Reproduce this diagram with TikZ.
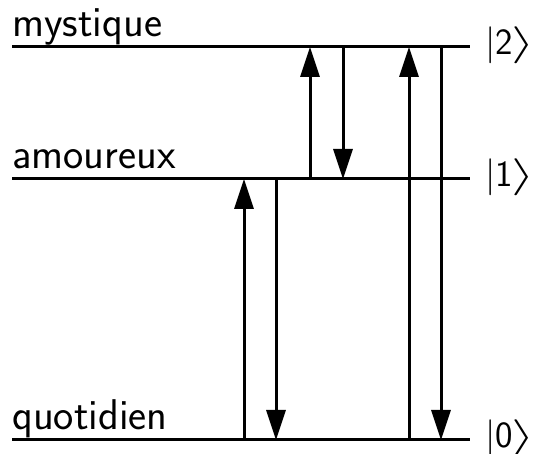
\RequirePackage{fix-cm}
\documentclass[tikz,border=0pt]{standalone}
\usepackage{fontspec}
\usetikzlibrary{arrows.meta,calc}
\newcommand{\wideket}{\scalebox{1.65}[1]{$\rangle$}}
\begin{document}
\begin{tikzpicture}[x=1pt,y=1pt,
  level/.style={line width=3pt},
  trans/.style={line width=3pt,-{Triangle[length=30pt,width=19pt]}},
  lvlname/.style={anchor=base west,inner sep=0pt,font=\fontsize{43}{50}\sffamily},
  ket/.style={anchor=base west,inner sep=0pt,font=\fontsize{37}{44}\sffamily}]
\useasboundingbox (0,0) rectangle (536,454);
% energy levels
\coordinate (L0w) at (12,14);  \coordinate (L0e) at (470,14);
\coordinate (L1w) at (12,275); \coordinate (L1e) at (470,275);
\coordinate (L2w) at (12,407); \coordinate (L2e) at (470,407);
\draw[level] (L0w) -- (L0e);
\draw[level] (L1w) -- (L1e);
\draw[level] (L2w) -- (L2e);
\node[lvlname] (n0) at ($(L0w)+(0,10)$) {quotidien};
\node[lvlname] (n1) at ($(L1w)+(0,10)$) {amoureux};
\node[lvlname] (n2) at ($(L2w)+(0,10)$) {mystique};
\node[ket] (k0) at ($(L0e)+(15,-8)$) {|0\kern-1pt\wideket};
\node[ket] (k1) at ($(L1e)+(15,-8)$) {|1\kern-1pt\wideket};
\node[ket] (k2) at ($(L2e)+(15,-8)$) {|2\kern-1pt\wideket};
% transition columns
\coordinate (a) at (244,0); \coordinate (b) at (276,0);
\coordinate (c) at (310,0); \coordinate (d) at (343,0);
\coordinate (e) at (409,0); \coordinate (f) at (441,0);
\draw[trans] (a |- L0w) -- (a |- L1w);
\draw[trans] (b |- L1w) -- (b |- L0w);
\draw[trans] (c |- L1w) -- (c |- L2w);
\draw[trans] (d |- L2w) -- (d |- L1w);
\draw[trans] (e |- L0w) -- (e |- L2w);
\draw[trans] (f |- L2w) -- (f |- L0w);
\end{tikzpicture}
\end{document}
